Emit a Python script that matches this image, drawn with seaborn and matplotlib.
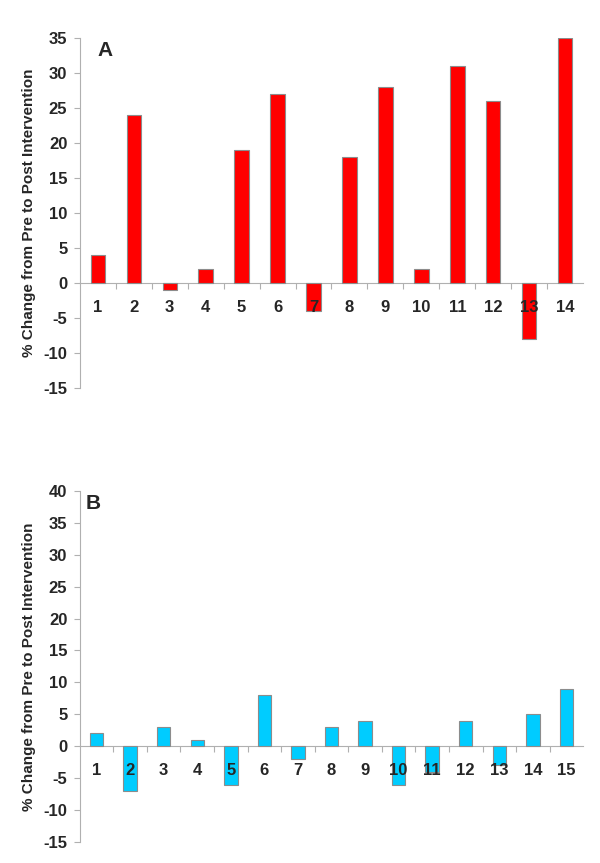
import matplotlib
matplotlib.use("Agg")
import matplotlib.pyplot as plt
import seaborn as sns
import numpy as np
import pandas as pd

# ---- data ----
cats_a = [str(i) for i in range(1, 15)]
vals_a = [4, 24, -1, 2, 19, 27, -4, 18, 28, 2, 31, 26, -8, 35]
cats_b = [str(i) for i in range(1, 16)]
vals_b = [2, -7, 3, 1, -6, 8, -2, 3, 4, -6, -4, 4, -3, 5, 9]
yticks_a = list(range(-15, 40, 5))
yticks_b = list(range(-15, 45, 5))
ylabel = "% Change from Pre to Post Intervention"

sns.set_theme(style="white")
plt.rcParams['font.family'] = ['Liberation Sans', 'DejaVu Sans']

fig = plt.figure(figsize=(6, 8.63), dpi=100)
axA = fig.add_axes([0.133, 0.550, 0.839, 0.406])
axB = fig.add_axes([0.133, 0.0243, 0.839, 0.407])

gray = "#b0b0b0"

def panel(ax, cats, vals, color, yticks, letter, letter_x):
    df = pd.DataFrame({"cat": cats, "val": vals})
    sns.barplot(data=df, x="cat", y="val", color=color, width=0.4,
                edgecolor="#8c8c8c", linewidth=0.8, saturation=1, ax=ax)
    ax.set_axisbelow(False)
    n = len(cats)
    ax.set_xlim(-0.5, n - 0.5)
    ax.set_ylim(yticks[0], yticks[-1])
    ax.set_yticks(yticks)
    ax.set_yticklabels([str(t) for t in yticks], fontsize=12, fontweight="bold")
    for s in ["top", "right"]:
        ax.spines[s].set_visible(False)
    ax.spines["left"].set_color(gray)
    ax.spines["left"].set_linewidth(0.8)
    ax.spines["left"].set_zorder(0.5)
    ax.spines["bottom"].set_position(("data", 0))
    ax.spines["bottom"].set_color(gray)
    ax.spines["bottom"].set_linewidth(0.8)
    ax.spines["bottom"].set_zorder(0.5)
    ax.tick_params(axis="y", direction="out", length=4, color=gray, width=0.8, pad=5, left=True)
    ax.set_xticks(range(n))
    ax.set_xticklabels(cats, fontsize=12, fontweight="bold")
    ax.tick_params(axis="x", which="major", length=0, pad=12, bottom=True)
    ax.set_xticks(np.arange(0.5, n - 0.5, 1), minor=True)
    ax.tick_params(axis="x", which="minor", direction="out", length=4, color=gray, width=0.8, bottom=True)
    ax.set_xlabel("")
    ax.set_ylabel(ylabel, fontsize=11, fontweight="bold", labelpad=5)
    ax.text(letter_x, 0.99, letter, transform=ax.transAxes, fontsize=15,
            fontweight="bold", va="top", ha="left")
    ax.grid(False)

panel(axA, cats_a, vals_a, "#ff0000", yticks_a, "A", 0.035)
panel(axB, cats_b, vals_b, "#00ccff", yticks_b, "B", 0.012)

fig.savefig("out.png", dpi=100)
